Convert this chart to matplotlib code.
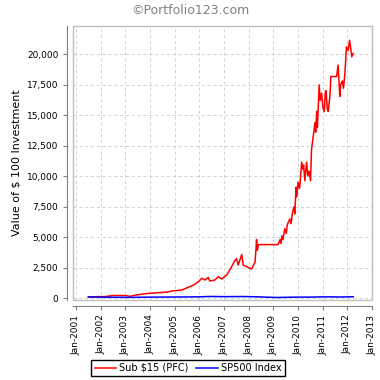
import numpy as np
import pandas as pd
import matplotlib
matplotlib.use("Agg")
import matplotlib.pyplot as plt
import matplotlib.dates as mdates
from matplotlib.ticker import FuncFormatter, MultipleLocator
from matplotlib.patches import Rectangle

# Sub $15 (PFC)
pfc_dates = [
    "2001-07-01", "2001-10-08", "2002-03-07", "2002-07-01", "2002-12-28",
    "2003-03-10", "2003-06-18", "2003-11-14", "2004-02-14", "2004-05-26",
    "2004-09-10", "2004-12-05", "2005-03-22", "2005-04-20", "2005-08-15",
    "2005-10-15", "2005-12-18", "2006-02-06", "2006-03-25", "2006-05-10",
    "2006-06-05", "2006-08-18", "2006-10-08", "2006-11-28", "2007-02-10",
    "2007-04-23", "2007-06-13", "2007-07-05", "2007-07-30", "2007-09-20",
    "2007-10-12", "2007-12-01", "2008-02-14", "2008-04-05", "2008-04-27",
    "2008-05-08", "2008-05-23", "2009-03-10", "2009-04-10", "2009-04-20",
    "2009-05-10", "2009-05-20", "2009-06-20", "2009-07-10", "2009-07-25",
    "2009-09-02", "2009-09-20", "2009-10-10", "2009-11-02", "2009-11-15",
    "2009-12-02", "2009-12-15", "2010-01-01", "2010-01-25", "2010-02-24",
    "2010-03-15", "2010-03-25", "2010-04-12", "2010-05-08", "2010-05-27",
    "2010-06-15", "2010-07-05", "2010-07-20", "2010-08-15", "2010-09-09",
    "2010-09-20", "2010-10-05", "2010-10-15", "2010-11-10", "2010-11-25",
    "2010-12-16", "2011-01-05", "2011-01-25", "2011-02-10", "2011-02-20",
    "2011-03-10", "2011-03-25", "2011-04-20", "2011-05-02", "2011-07-27",
    "2011-08-18", "2011-09-12", "2011-09-25", "2011-10-20", "2011-11-05",
    "2011-11-25", "2011-12-20", "2012-01-15", "2012-02-03", "2012-02-20",
    "2012-03-07", "2012-03-28",
]
pfc_values = [
    100, 120, 130, 220, 220,
    150, 270, 380, 420, 460,
    500, 600, 650, 680, 950,
    1100, 1360, 1630, 1490, 1700,
    1410, 1490, 1760, 1570, 1900,
    2580, 3110, 3250, 2710, 3580,
    2710, 2580, 2380, 2980, 4800,
    3930, 4390, 4390, 4800, 4500,
    5100, 4800, 5690, 5300, 6000,
    6500, 6100, 7000, 7480, 6900,
    9100, 8300, 9510, 9000, 11140,
    10570, 10900, 9620, 11140, 10020,
    10400, 9620, 12200, 13280, 14390,
    13600, 15310, 14000, 17480, 16200,
    16800, 15600, 15280, 16900, 17000,
    15500, 15300, 16670, 18160, 18160,
    19100, 16530, 17500, 17800, 17200,
    18300, 20600, 20300, 21140, 20500,
    19780, 20050,
]

# SP500 Index
sp_dates = [
    "2001-07-01", "2001-10-01", "2002-07-01", "2003-03-01", "2003-12-01",
    "2005-01-01", "2006-01-01", "2006-06-01", "2007-01-01", "2007-10-01",
    "2008-06-01", "2008-10-01", "2009-03-01", "2009-12-01", "2010-06-01",
    "2010-11-01", "2011-04-01", "2011-09-01", "2012-03-28",
]
sp_values = [
    100, 90, 75, 65, 85,
    95, 110, 140, 125, 135,
    110, 80, 55, 85, 85,
    100, 110, 95, 115,
]

year_ticks = list(range(2001, 2014))

fig = plt.figure(figsize=(3.8, 3.8), dpi=100)
ax = fig.add_axes([73 / 380, 1 - 300 / 380, (372 - 73) / 380, (300 - 26) / 380])

ax.plot(pd.to_datetime(pfc_dates), pfc_values, color="#ff0000", lw=1.1,
        label="Sub \\$15 (PFC)")
ax.plot(pd.to_datetime(sp_dates), sp_values, color="#0000ff", lw=1.1,
        label="SP500 Index")

ax.set_xlim(pd.Timestamp("2000-11-15"), pd.Timestamp("2013-01-01"))
ax.set_ylim(-150, 22300)

ax.set_xticks([pd.Timestamp(f"{y}-01-01") for y in year_ticks])
ax.xaxis.set_major_formatter(mdates.DateFormatter("%b-%Y"))
ax.yaxis.set_major_locator(MultipleLocator(2500))
ax.yaxis.set_major_formatter(FuncFormatter(lambda v, p: f"{int(v):,}"))
ax.tick_params(axis="x", labelrotation=90, labelsize=6.5, length=3, color="#808080")
ax.tick_params(axis="y", labelsize=6.5, length=3, color="#808080")

ax.grid(True, color="#d0d0d0", ls=(0, (3, 3)), lw=0.7)
ax.set_axisbelow(True)

# plot box plus offset axis lines
for s in ["top", "right"]:
    ax.spines[s].set_color("#c0c0c0")
for s in ["left", "bottom"]:
    ax.spines[s].set_position(("outward", 4))
    ax.spines[s].set_color("#808080")
ax.add_patch(Rectangle((0, 0), 1, 1, transform=ax.transAxes, fill=False,
                       edgecolor="#c0c0c0", lw=1, clip_on=False))

ax.set_ylabel("Value of \\$ 100 Investment", fontsize=8)

fig.text(0.5, 0.972, "©Portfolio123.com", ha="center", va="center",
         color="#808080", fontsize=9)

fig.legend(loc="center", bbox_to_anchor=(188 / 380, 12 / 380), ncol=2,
           fontsize=7, frameon=True, fancybox=False, edgecolor="black",
           framealpha=1, handlelength=2.2, handletextpad=0.3,
           columnspacing=0.8, borderpad=0.35)

fig.savefig("out.png", dpi=100)
